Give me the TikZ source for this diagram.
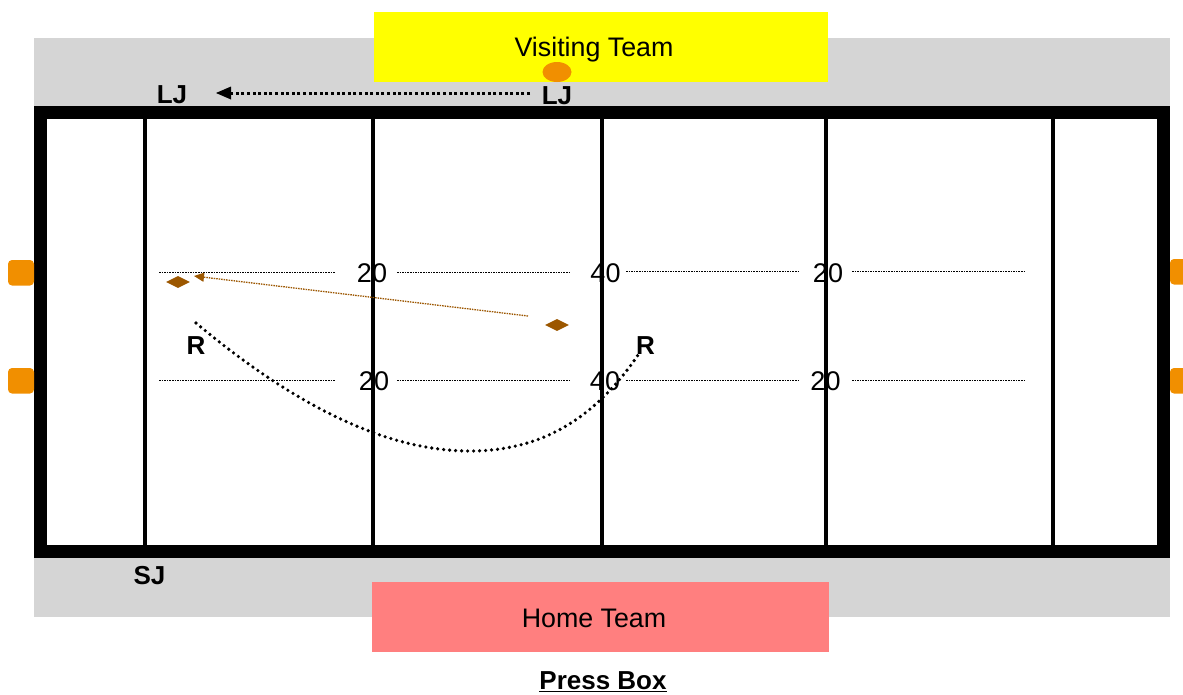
\documentclass[tikz,border=0pt]{standalone}
\usepackage{fontspec}
\setmainfont{Liberation Sans}
\usetikzlibrary{arrows.meta}
\usetikzlibrary{shapes.geometric}
\definecolor{sidegray}{HTML}{D5D5D5}
\definecolor{visitteam}{HTML}{FFFF00}
\definecolor{hometeam}{HTML}{FF7F7F}
\definecolor{flagorange}{HTML}{F18F00}
\definecolor{ballbrown}{HTML}{9C5700}
\tikzset{
  teamname/.style={font=\fontsize{26.8}{26.8}\selectfont,text=black,inner sep=0pt},
  yardnum/.style={font=\fontsize{27}{27}\selectfont,inner sep=0pt},
  official/.style={font=\bfseries\fontsize{26}{26}\selectfont,inner sep=0pt},
  yardline/.style={line width=4pt},
  hash/.style={line width=1.3pt,dash pattern=on 1.6pt off 1pt},
  pylon/.style={fill=flagorange,rounded corners=4pt},
  ballmark/.style={fill=ballbrown,draw=none,diamond,minimum width=24pt,minimum height=12pt,inner sep=0pt,aspect=2},
  mechanic/.style={line width=3.6pt,line cap=round,dash pattern=on 0pt off 6pt}
}
\begin{document}
\begin{tikzpicture}[x=1pt,y=-1pt]
\useasboundingbox (0,0) rectangle (1183,694);
\fill[sidegray] (34,38) rectangle (1170,617);
\draw[line width=13pt,fill=white] (40.5,112.5) rectangle (1163.5,551.5);
% yard lines
\draw[yardline] (145,119) -- (145,545);
\draw[yardline] (373,119) -- (373,545);
\draw[yardline] (602,119) -- (602,545);
\draw[yardline] (825.5,119) -- (825.5,545);
\draw[yardline] (1053,119) -- (1053,545);
% team areas
\node[fill=visitteam,minimum width=454pt,minimum height=70pt,inner sep=0pt] (visitors) at (601,47) {};
\node[teamname] (visitlabel) at (594,50) {Visiting Team};
\node[fill=hometeam,minimum width=457pt,minimum height=70pt,inner sep=0pt] (home) at (600.5,617) {};
\node[teamname] (homelabel) at (594,618) {Home Team};
\node[official,anchor=center] (pressbox) at (603,682) {\underline{Press Box}};
% pylons
\clip (0,0) rectangle (1183,694);
\fill[pylon] (8,260) rectangle (34,285.5);
\fill[pylon] (8,368) rectangle (34,393.5);
\fill[pylon] (1170,259) rectangle (1196,284.5);
\fill[pylon] (1170,368) rectangle (1196,393.5);
% hash marks
\draw[hash] (159,272.5) -- (335,272.5);
\draw[hash] (397,272.5) -- (571,272.5);
\draw[hash] (626,271.5) -- (800,271.5);
\draw[hash] (852,271.5) -- (1025,271.5);
\draw[hash] (159,380.5) -- (335,380.5);
\draw[hash] (397,380.5) -- (571,380.5);
\draw[hash] (626,380.5) -- (800,380.5);
\draw[hash] (852,380.5) -- (1025,380.5);
% numbers
\node[yardnum] (numa) at (372,273) {20};
\node[yardnum] (numb) at (605.5,273) {40};
\node[yardnum] (numc) at (828,273) {20};
\node[yardnum] (numd) at (374,381) {20};
\node[yardnum] (nume) at (605,381) {40};
\node[yardnum] (numf) at (825.5,381) {20};
% officials
\fill[flagorange] (557,72) ellipse (14.5 and 10);
\node[official] (ljend) at (172,94.5) {LJ};
\node[official] (ljstart) at (557,95.5) {LJ};
\node[official] (sj) at (149.5,576) {SJ};
\node[official] (rend) at (196,346) {R};
\node[official] (rstart) at (645.5,346) {R};
% ball spots
\node[ballmark] (spotb) at (178,282) {};
\node[ballmark] (spota) at (557,325) {};
% movement
\coordinate (ljfrom) at (530,93);
\coordinate (ljto) at (216,93);
\coordinate (ballfrom) at (528,316);
\coordinate (ballto) at (194,276);
\coordinate (rfrom) at (640,352);
\coordinate (rto) at (196,323);
\coordinate (rlow) at (470,451);
\draw[line width=3pt,dash pattern=on 3pt off 2.6pt] (ljfrom) -- (231,93);
\fill (ljto) -- (231,86.5) -- (231,99.5) -- cycle;
\draw[ballbrown,line width=1.3pt,dash pattern=on 1.5pt off 1pt,-{Triangle[length=10pt,width=9pt]}] (ballfrom) -- (ballto);
\draw[mechanic] (rto) .. controls (300,410) and (390,451) .. (rlow) .. controls (540,451) and (595,420) .. (rfrom);
\end{tikzpicture}
\end{document}
